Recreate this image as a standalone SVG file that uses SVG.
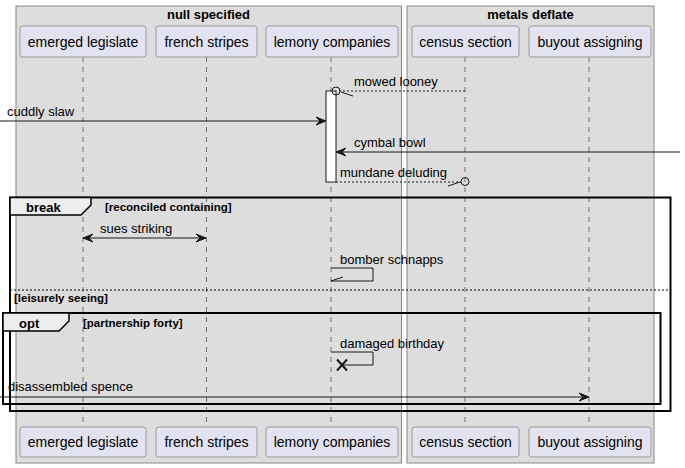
<svg xmlns="http://www.w3.org/2000/svg" width="685" height="468" viewBox="0 0 685 468">
<defs>
<style>
.grp{fill:#DDDDDD;stroke:#888888;stroke-width:1}
.gt{font-family:"Liberation Sans",Arial,sans-serif;font-size:13px;font-weight:bold;fill:#000;text-anchor:middle}
.pbox{fill:#E2E2F0;stroke:#999999;stroke-width:1}
.pt{font-family:"Liberation Sans",Arial,sans-serif;font-size:14px;fill:#000;text-anchor:middle}
.life{stroke:#555555;stroke-width:0.8;stroke-dasharray:5,5;fill:none}
.msg{stroke:#181818;stroke-width:1;fill:none}
.dash{stroke:#181818;stroke-width:1;fill:none;stroke-dasharray:2,2}
.mt{font-family:"Liberation Sans",Arial,sans-serif;font-size:13px;fill:#000}
.frame{fill:none;stroke:#000;stroke-width:2}
.tab{fill:#EEEEEE;stroke:#000;stroke-width:1.5}
.ft{font-family:"Liberation Sans",Arial,sans-serif;font-size:13px;font-weight:bold;fill:#000}
.fc{font-family:"Liberation Sans",Arial,sans-serif;font-size:11.5px;font-weight:bold;fill:#000}
.ah{fill:#181818;stroke:#181818;stroke-width:1}
</style>
</defs>
<g id="box-null-specified">
<rect class="grp" x="16" y="6" width="385.5" height="457"/>
<text class="gt" x="208.5" y="19">null specified</text>
</g>
<g id="box-metals-deflate">
<rect class="grp" x="407" y="6" width="247" height="457"/>
<text class="gt" x="530.5" y="19">metals deflate</text>
</g>
<g id="lifelines">
<line class="life" x1="83" y1="57" x2="83" y2="427"/>
<line class="life" x1="206.5" y1="57" x2="206.5" y2="427"/>
<line class="life" x1="331" y1="57" x2="331" y2="427"/>
<line class="life" x1="465" y1="57" x2="465" y2="427"/>
<line class="life" x1="589" y1="57" x2="589" y2="427"/>
</g>
<g id="emerged-legislate">
<rect class="pbox" x="20" y="26" width="126" height="31" rx="2.5"/>
<text class="pt" x="83" y="47">emerged legislate</text>
<rect class="pbox" x="20" y="427" width="126" height="30" rx="2.5"/>
<text class="pt" x="83" y="447">emerged legislate</text>
</g>
<g id="french-stripes">
<rect class="pbox" x="156" y="26" width="101" height="31" rx="2.5"/>
<text class="pt" x="206.5" y="47">french stripes</text>
<rect class="pbox" x="156" y="427" width="101" height="30" rx="2.5"/>
<text class="pt" x="206.5" y="447">french stripes</text>
</g>
<g id="lemony-companies">
<rect class="pbox" x="266" y="26" width="132" height="31" rx="2.5"/>
<text class="pt" x="332" y="47">lemony companies</text>
<rect class="pbox" x="266" y="427" width="132" height="30" rx="2.5"/>
<text class="pt" x="332" y="447">lemony companies</text>
</g>
<g id="census-section">
<rect class="pbox" x="412" y="26" width="107" height="31" rx="2.5"/>
<text class="pt" x="465.5" y="47">census section</text>
<rect class="pbox" x="412" y="427" width="107" height="30" rx="2.5"/>
<text class="pt" x="465.5" y="447">census section</text>
</g>
<g id="buyout-assigning">
<rect class="pbox" x="529" y="26" width="122" height="31" rx="2.5"/>
<text class="pt" x="590" y="47">buyout assigning</text>
<rect class="pbox" x="529" y="427" width="122" height="30" rx="2.5"/>
<text class="pt" x="590" y="447">buyout assigning</text>
</g>
<g id="activation">
<rect x="326" y="91" width="10" height="91" fill="#FFFFFF" stroke="#181818" stroke-width="1"/>
</g>
<g id="connectors">
<line class="dash" x1="465" y1="91" x2="340" y2="91"/>
<circle cx="336" cy="91" r="4" fill="none" stroke="#181818" stroke-width="1"/>
<line class="msg" x1="341" y1="92" x2="353" y2="96"/>
<text class="mt" x="354" y="86">mowed looney</text>
<line class="msg" x1="0" y1="121" x2="324" y2="121"/>
<polygon class="ah" points="326,121 316,117 320,121 316,125"/>
<text class="mt" x="7" y="116">cuddly slaw</text>
<line class="msg" x1="680" y1="152" x2="338" y2="152"/>
<polygon class="ah" points="336,152 346,148 342,152 346,156"/>
<text class="mt" x="354" y="147">cymbal bowl</text>
<line class="dash" x1="336" y1="182" x2="461" y2="182"/>
<circle cx="465" cy="181.5" r="4" fill="none" stroke="#181818" stroke-width="1"/>
<line class="msg" x1="448" y1="186" x2="460" y2="182"/>
<text class="mt" x="340" y="177">mundane deluding</text>
<line class="msg" x1="85" y1="238" x2="204" y2="238"/>
<polygon class="ah" points="83,238 93,234 89,238 93,242"/>
<polygon class="ah" points="206,238 196,234 200,238 196,242"/>
<text class="mt" x="100" y="233">sues striking</text>
<polyline class="msg" points="331,268 373,268 373,281 331,281"/>
<line class="msg" x1="331" y1="281" x2="343" y2="277"/>
<text class="mt" x="340" y="264">bomber schnapps</text>
<polyline class="msg" points="331,352 373,352 373,365 343,365"/>
<line x1="337" y1="359.5" x2="347" y2="370.5" stroke="#181818" stroke-width="2"/>
<line x1="347" y1="359.5" x2="337" y2="370.5" stroke="#181818" stroke-width="2"/>
<text class="mt" x="340" y="348">damaged birthday</text>
<line class="msg" x1="0" y1="397" x2="587" y2="397"/>
<polygon class="ah" points="589,397 579,393 583,397 579,401"/>
<text class="mt" x="8" y="391">disassembled spence</text>
</g>
<g id="frame-break">
<rect class="frame" x="10" y="197.5" width="660.5" height="213.5"/>
<path class="tab" d="M10,197.5 L91,197.5 L91,205 L81,215 L10,215 Z"/>
<text class="ft" x="26" y="212">break</text>
<text class="fc" x="105" y="211">[reconciled containing]</text>
<line x1="10" y1="290" x2="670" y2="290" stroke="#000" stroke-width="1" stroke-dasharray="2,2"/>
<text class="fc" x="14" y="302">[leisurely seeing]</text>
</g>
<g id="frame-opt">
<rect class="frame" x="3" y="313" width="657.5" height="91"/>
<path class="tab" d="M3,313 L69,313 L69,321 L59,331 L3,331 Z"/>
<text class="ft" x="19" y="328">opt</text>
<text class="fc" x="83" y="327">[partnership forty]</text>
</g>
</svg>
